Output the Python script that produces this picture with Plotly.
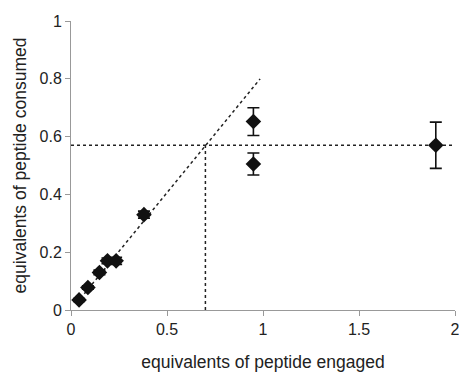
import plotly.graph_objects as go

# data
x_vals = [0.042, 0.088, 0.148, 0.19, 0.235, 0.38, 0.95, 0.95, 1.90]
y_vals = [0.035, 0.078, 0.13, 0.17, 0.17, 0.33, 0.652, 0.505, 0.57]
y_err = [0.005, 0.006, 0.008, 0.01, 0.012, 0.012, 0.048, 0.038, 0.08]

fit_x = [0.03, 0.985]
fit_slope = 0.812
intercept_y = 0.57
intercept_x = 0.70

fig = go.Figure()

dot = dict(color="#222", width=1.5, dash="dot")
fig.add_trace(go.Scatter(x=fit_x, y=[fit_slope * v for v in fit_x], mode="lines",
                         line=dot, showlegend=False, hoverinfo="skip", cliponaxis=False))
fig.add_trace(go.Scatter(x=[0, 2], y=[intercept_y, intercept_y], mode="lines",
                         line=dot, showlegend=False, hoverinfo="skip", cliponaxis=False))
fig.add_trace(go.Scatter(x=[intercept_x, intercept_x], y=[0, intercept_y], mode="lines",
                         line=dot, showlegend=False, hoverinfo="skip", cliponaxis=False))

fig.add_trace(go.Scatter(
    x=x_vals, y=y_vals, mode="markers",
    marker=dict(symbol="diamond", size=12, color="#111"),
    error_y=dict(type="data", array=y_err, visible=True, color="#111", thickness=1.6, width=6),
    showlegend=False, cliponaxis=False))

font = "Liberation Sans, Arial"
axis_common = dict(
    showgrid=False, zeroline=False, showline=True, linecolor="#999", linewidth=1,
    ticks="outside", tickcolor="#999", ticklen=5, automargin=False,
    ticklabeloverflow="allow",
    tickfont=dict(family=font, size=16, color="#222"),
)

fig.update_layout(
    width=459, height=373,
    margin=dict(l=71, r=4, t=21, b=63),
    plot_bgcolor="white", paper_bgcolor="white",
    xaxis=dict(range=[0, 2], tickvals=[0, 0.5, 1, 1.5, 2], ticktext=["0", "0.5", "1", "1.5", "2"],
               title=dict(text="equivalents of peptide engaged", standoff=18,
                          font=dict(family=font, size=17.5, color="#222")),
               **axis_common),
    yaxis=dict(range=[0, 1], tickvals=[0, 0.2, 0.4, 0.6, 0.8, 1], ticktext=["0", "0.2", "0.4", "0.6", "0.8", "1"],
               title=dict(text="equivalents of peptide consumed", standoff=8,
                          font=dict(family=font, size=17.5, color="#222")),
               **axis_common),
)

fig.write_html("out.html", config={"displayModeBar": False},
               post_script="document.body.style.margin='0';document.body.style.overflow='hidden';")
